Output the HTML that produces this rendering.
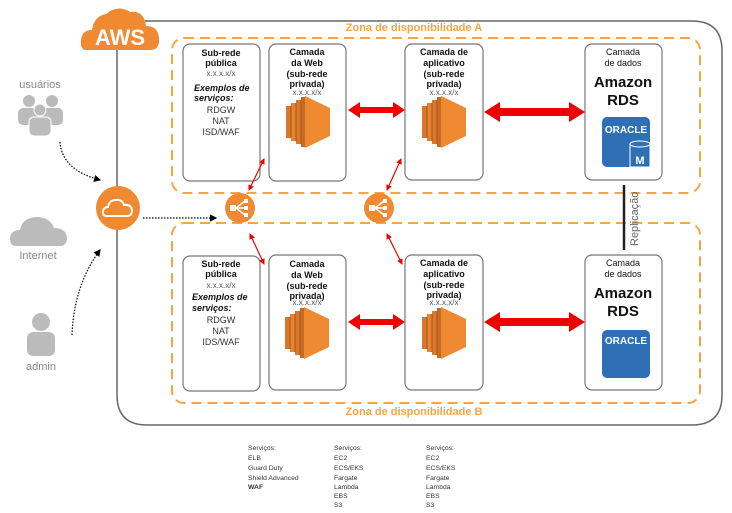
<!DOCTYPE html>
<html><head><meta charset="utf-8"><style>
html,body{margin:0;padding:0;background:#fff;}
svg{display:block;font-family:"Liberation Sans",sans-serif;}
</style></head><body>
<svg width="732" height="513" viewBox="0 0 732 513" xmlns="http://www.w3.org/2000/svg">
<defs>
<symbol id="ec2" viewBox="0 0 44 52">
  <rect x="0" y="10" width="6" height="32" fill="#d9772a"/>
  <rect x="5" y="7" width="6" height="38" fill="#e8842f"/>
  <rect x="10" y="4" width="6" height="44" fill="#d9772a"/>
  <rect x="15" y="1" width="4" height="50" fill="#c86a22"/>
  <polygon points="19,0 44,12 44,40 19,52" fill="#f08a32"/>
  <line x1="5" y1="10" x2="5" y2="42" stroke="#a8561a" stroke-width="1"/>
  <line x1="10" y1="7" x2="10" y2="45" stroke="#a8561a" stroke-width="1"/>
  <line x1="15" y1="4" x2="15" y2="48" stroke="#a8561a" stroke-width="1"/>
</symbol>
<symbol id="elb" viewBox="0 0 30 30">
  <circle cx="15" cy="15" r="15" fill="#f08a32"/>
  <rect x="5" y="12" width="6" height="6" fill="#fff"/>
  <path d="M11 15 L20 8 M11 15 L20 15 M11 15 L20 22" stroke="#fff" stroke-width="1.5"/>
  <rect x="19" y="6" width="4" height="4" fill="#fff"/>
  <rect x="19" y="13" width="4" height="4" fill="#fff"/>
  <rect x="19" y="20" width="4" height="4" fill="#fff"/>
</symbol>
<marker id="ah" markerWidth="6" markerHeight="6" refX="5" refY="3" orient="auto"><path d="M0,0 L6,3 L0,6 z" fill="#e00"/></marker>
<marker id="ak" markerWidth="6" markerHeight="6" refX="5" refY="3" orient="auto"><path d="M0,0 L6,3 L0,6 z" fill="#000"/></marker>
</defs>

<path d="M145 21 L692 21 Q722 21 722 51 L722 395 Q722 425 692 425 L147 425 Q117 425 117 395 L117 40" fill="none" stroke="#666" stroke-width="1.5"/>
<path d="M86 50 Q80 50 81 40 Q82 30 92 30 Q94 16 106 14 Q118 4 130 12 Q144 10 146 26 Q158 26 159 38 Q160 50 150 50 Z" fill="#f08a32"/>
<text x="120" y="45" text-anchor="middle" font-size="22" font-weight="bold" fill="#fff">AWS</text>

<rect x="172" y="38" width="528" height="155" rx="12" fill="none" stroke="#f7a444" stroke-width="2" stroke-dasharray="10,6"/>
<rect x="172" y="223" width="528" height="180" rx="12" fill="none" stroke="#f7a444" stroke-width="2" stroke-dasharray="10,6"/>
<text x="414" y="31" text-anchor="middle" font-size="11" font-weight="bold" fill="#f7a444">Zona de disponibilidade A</text>
<text x="414" y="415" text-anchor="middle" font-size="11" font-weight="bold" fill="#f7a444">Zona de disponibilidade B</text>

<g fill="#fff" stroke="#777" stroke-width="1.2">
<rect x="183" y="44" width="77" height="137" rx="7"/>
<rect x="269" y="44" width="77" height="137" rx="7"/>
<rect x="405" y="44" width="78" height="136" rx="7"/>
<rect x="585" y="44" width="77" height="136" rx="7"/>
<rect x="183" y="256" width="77" height="135" rx="7"/>
<rect x="269" y="255" width="77" height="135" rx="7"/>
<rect x="405" y="255" width="78" height="135" rx="7"/>
<rect x="585" y="255" width="77" height="135" rx="7"/>
</g>

<g font-size="9" font-weight="bold" text-anchor="middle" fill="#111">
<text x="221" y="56">Sub-rede</text><text x="221" y="66">pública</text>
<text x="307" y="55">Camada</text><text x="307" y="66">da Web</text><text x="307" y="77">(sub-rede</text><text x="307" y="87">privada)</text>
<text x="444" y="55">Camada de</text><text x="444" y="66">aplicativo</text><text x="444" y="77">(sub-rede</text><text x="444" y="87">privada)</text>
<text x="623" y="55" font-weight="normal">Camada</text><text x="623" y="66" font-weight="normal">de dados</text>
<text x="623" y="87" font-size="15">Amazon</text><text x="623" y="105" font-size="15">RDS</text>
<text x="221" y="267">Sub-rede</text><text x="221" y="277">pública</text>
<text x="307" y="267">Camada</text><text x="307" y="278">da Web</text><text x="307" y="289">(sub-rede</text><text x="307" y="299">privada)</text>
<text x="444" y="266">Camada de</text><text x="444" y="277">aplicativo</text><text x="444" y="288">(sub-rede</text><text x="444" y="298">privada)</text>
<text x="623" y="266" font-weight="normal">Camada</text><text x="623" y="277" font-weight="normal">de dados</text>
<text x="623" y="298" font-size="15">Amazon</text><text x="623" y="316" font-size="15">RDS</text>
</g>
<g font-size="8" text-anchor="middle" fill="#555">
<text x="221" y="76">x.x.x.x/x</text><text x="307" y="95">x.x.x.x/x</text><text x="444" y="95">x.x.x.x/x</text>
<text x="221" y="288">x.x.x.x/x</text><text x="307" y="305">x.x.x.x/x</text><text x="444" y="305">x.x.x.x/x</text>
</g>
<g font-size="9" fill="#111">
<text x="194" y="91" font-weight="bold" font-style="italic">Exemplos de</text>
<text x="194" y="101" font-weight="bold" font-style="italic">serviços:</text>
<text x="221" y="113" text-anchor="middle" fill="#333">RDGW</text>
<text x="221" y="124" text-anchor="middle" fill="#333">NAT</text>
<text x="221" y="135" text-anchor="middle" fill="#333">ISD/WAF</text>
<text x="192" y="300" font-weight="bold" font-style="italic">Exemplos de</text>
<text x="192" y="311" font-weight="bold" font-style="italic">serviços:</text>
<text x="221" y="323" text-anchor="middle" fill="#333">RDGW</text>
<text x="221" y="334" text-anchor="middle" fill="#333">NAT</text>
<text x="221" y="345" text-anchor="middle" fill="#333">IDS/WAF</text>
</g>

<use href="#ec2" x="286" y="96" width="44" height="52"/>
<use href="#ec2" x="422" y="96" width="44" height="52"/>
<use href="#ec2" x="285" y="307" width="44" height="52"/>
<use href="#ec2" x="422" y="307" width="44" height="52"/>

<rect x="602" y="117" width="48" height="50" rx="5" fill="#2f6fb5"/>
<text x="626" y="133" text-anchor="middle" font-size="10" font-weight="bold" fill="#fff">ORACLE</text>
<rect x="630" y="144" width="20" height="23" fill="#2f6fb5" stroke="#fff" stroke-width="1"/>
<ellipse cx="640" cy="144" rx="10" ry="3" fill="#2f6fb5" stroke="#fff" stroke-width="1"/>
<text x="640" y="164" text-anchor="middle" font-size="11" font-weight="bold" fill="#fff">M</text>
<rect x="602" y="330" width="48" height="48" rx="5" fill="#2f6fb5"/>
<text x="626" y="344" text-anchor="middle" font-size="10" font-weight="bold" fill="#fff">ORACLE</text>

<g fill="#e00">
<polygon points="348,110 360,102 360,107 393,107 393,102 405,110 393,118 393,113 360,113 360,118"/>
<polygon points="484,112 500,102 500,108 569,108 569,102 585,112 569,122 569,116 500,116 500,122"/>
<polygon points="348,322 360,314 360,319 393,319 393,314 405,322 393,330 393,325 360,325 360,330"/>
<polygon points="484,322 500,312 500,318 569,318 569,312 585,322 569,332 569,326 500,326 500,332"/>
</g>
<g stroke="#e00" stroke-width="1" marker-end="url(#ah)" fill="none">
<line x1="249" y1="190" x2="264" y2="159"/>
<line x1="264" y1="159" x2="249" y2="190"/>
<line x1="387" y1="190" x2="401" y2="159"/>
<line x1="401" y1="159" x2="387" y2="190"/>
<line x1="250" y1="234" x2="264" y2="264"/>
<line x1="264" y1="264" x2="250" y2="234"/>
<line x1="387" y1="234" x2="402" y2="264"/>
<line x1="402" y1="264" x2="387" y2="234"/>
</g>

<use href="#elb" x="225" y="193" width="30" height="30"/>
<use href="#elb" x="364" y="193" width="30" height="30"/>

<circle cx="118" cy="208" r="22" fill="#f08a32"/>
<path d="M107 216 Q102 216 103 211 Q104 207 108 207 Q109 200 116 200 Q122 199 124 205 Q131 204 132 210 Q132 216 127 216 Z" fill="none" stroke="#fff" stroke-width="2"/>
<line x1="143" y1="218" x2="216" y2="218" stroke="#000" stroke-width="1.2" stroke-dasharray="1.5,1.5" marker-end="url(#ak)"/>
<path d="M60 142 Q62 170 100 180" fill="none" stroke="#000" stroke-width="1.2" stroke-dasharray="1.5,1.5" marker-end="url(#ak)"/>
<path d="M72 335 Q74 285 100 250" fill="none" stroke="#000" stroke-width="1.2" stroke-dasharray="1.5,1.5" marker-end="url(#ak)"/>

<text x="40" y="88" text-anchor="middle" font-size="11" fill="#888">usuários</text>
<g fill="#bbb">
<circle cx="29" cy="101" r="6"/><circle cx="52" cy="101" r="6"/>
<rect x="18" y="108" width="22" height="17" rx="5"/><rect x="41" y="108" width="22" height="17" rx="5"/>
<circle cx="40" cy="110" r="6" stroke="#fff" stroke-width="1"/>
<rect x="29" y="117" width="22" height="19" rx="5" stroke="#fff" stroke-width="1"/>
</g>
<path d="M16 246 Q10 246 10 238 Q11 230 20 230 Q22 218 36 217 Q50 217 54 228 Q66 228 67 238 Q67 246 60 246 Z" fill="#bbb"/>
<text x="38" y="259" text-anchor="middle" font-size="11" fill="#888">Internet</text>
<circle cx="41" cy="322" r="9" fill="#bbb"/>
<rect x="27" y="332" width="28" height="24" rx="6" fill="#bbb"/>
<text x="41" y="370" text-anchor="middle" font-size="11" fill="#888">admin</text>

<line x1="624" y1="185" x2="624" y2="250" stroke="#222" stroke-width="2.5"/>
<text transform="translate(638,246) rotate(-90)" font-size="11" fill="#666">Replicação</text>

<g font-size="6.8" fill="#333">
<text x="248" y="450">Serviços:</text><text x="248" y="460">ELB</text><text x="248" y="470">Guard Duty</text><text x="248" y="480">Shield Advanced</text><text x="248" y="489" font-weight="bold">WAF</text>
<text x="334" y="450">Serviços:</text><text x="334" y="460">EC2</text><text x="334" y="470">ECS/EKS</text><text x="334" y="480">Fargate</text><text x="334" y="489">Lambda</text><text x="334" y="498">EBS</text><text x="334" y="507">S3</text>
<text x="426" y="450">Serviços:</text><text x="426" y="460">EC2</text><text x="426" y="470">ECS/EKS</text><text x="426" y="480">Fargate</text><text x="426" y="489">Lambda</text><text x="426" y="498">EBS</text><text x="426" y="507">S3</text>
</g>
</svg>
</body></html>
